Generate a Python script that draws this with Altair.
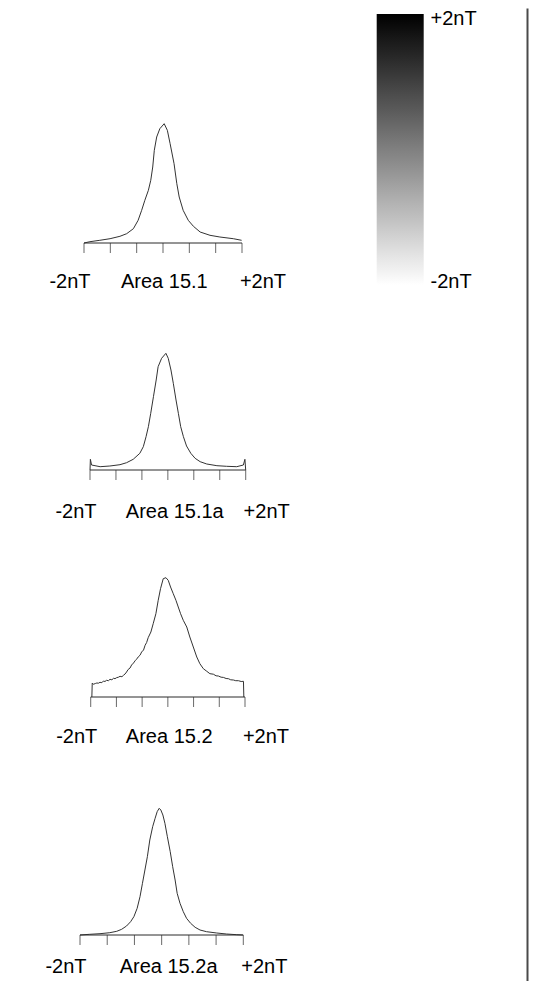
import altair as alt
import pandas as pd

# ---------------- data ----------------
# histogram traces: field value (nT) and relative frequency (arbitrary units)
P1_NT = [-2.00, -1.85, -1.60, -1.34, -1.09, -0.92, -0.75, -0.63, -0.54, -0.46,
         -0.37, -0.31, -0.26, -0.22, -0.16, -0.08, 0.03, 0.11, 0.18, 0.28,
         0.35, 0.41, 0.51, 0.64, 0.77, 0.94, 1.19, 1.44, 1.78, 1.99]
P1_FREQ = [0, 13, 27, 43, 67, 93, 143, 227, 327, 427,
           527, 627, 760, 927, 1060, 1143, 1193, 1127, 993, 793,
           593, 460, 327, 227, 167, 110, 77, 60, 43, 27]

P2_NT = [-2.00, -1.99, -1.96, -1.74, -1.49, -1.23, -1.06, -0.89, -0.72, -0.63,
         -0.56, -0.50, -0.44, -0.37, -0.30, -0.25, -0.16, -0.05, 0.01, 0.08,
         0.14, 0.21, 0.27, 0.33, 0.40, 0.48, 0.59, 0.70, 0.83, 1.00,
         1.26, 1.51, 1.77, 1.94, 1.98, 2.00]
P2_FREQ = [0, 107, 50, 33, 40, 53, 73, 107, 167, 233,
           333, 433, 567, 733, 900, 1033, 1117, 1167, 1117, 1000,
           867, 700, 567, 433, 333, 240, 167, 117, 83, 60,
           43, 37, 33, 50, 107, 0]

P3_NT = [-1.97, -1.96, -1.93, -1.88, -1.84, -1.80, -1.76, -1.71, -1.67, -1.63,
         -1.59, -1.54, -1.50, -1.45, -1.41, -1.37, -1.33, -1.28, -1.24, -1.19,
         -1.15, -1.11, -1.07, -1.03, -0.98, -0.94, -0.89, -0.85, -0.81, -0.77,
         -0.72, -0.68, -0.63, -0.59, -0.55, -0.51, -0.44, -0.38, -0.31, -0.25,
         -0.19, -0.12, -0.05, 0.01, 0.07, 0.14, 0.21, 0.27, 0.33, 0.40,
         0.49, 0.57, 0.66, 0.75, 0.83, 0.92, 1.01, 1.09, 1.18, 1.25,
         1.31, 1.38, 1.44, 1.51, 1.57, 1.63, 1.70, 1.76, 1.83, 1.90,
         1.96, 1.97]
P3_FREQ = [0, 140, 127, 135, 140, 138, 147, 143, 160, 155,
           167, 163, 177, 172, 187, 183, 193, 198, 207, 203,
           217, 230, 250, 275, 290, 320, 340, 362, 378, 400,
           418, 450, 470, 517, 545, 593, 650, 733, 833, 967,
           1083, 1183, 1193, 1167, 1100, 1033, 967, 900, 833, 767,
           700, 600, 500, 400, 333, 283, 257, 233, 228, 212,
           210, 198, 196, 185, 183, 172, 170, 163, 163, 155,
           157, 0]

P4_NT = [-2.00, -1.76, -1.51, -1.27, -1.10, -0.98, -0.86, -0.76, -0.68, -0.60,
         -0.53, -0.47, -0.41, -0.35, -0.29, -0.22, -0.16, -0.11, -0.06, -0.02,
         0.03, 0.08, 0.14, 0.21, 0.27, 0.33, 0.38, 0.45, 0.53, 0.61,
         0.71, 0.82, 0.94, 1.10, 1.35, 1.59, 1.84, 1.99]
P4_FREQ = [0, 7, 13, 23, 37, 57, 90, 133, 183, 267,
           383, 517, 650, 783, 950, 1083, 1167, 1233, 1267, 1250,
           1200, 1117, 983, 833, 683, 550, 417, 317, 233, 167,
           117, 77, 50, 33, 20, 10, 3, 0]

TICK_NT = [-2, -4 / 3, -2 / 3, 0, 2 / 3, 4 / 3, 2]
PANEL_TITLES = ["Area 15.1", "Area 15.1a", "Area 15.2", "Area 15.2a"]
LOW_LABEL = "-2nT"
HIGH_LABEL = "+2nT"
COLORBAR_NT = [-2, 2]

SERIES = [(P1_NT, P1_FREQ), (P2_NT, P2_FREQ), (P3_NT, P3_FREQ), (P4_NT, P4_FREQ)]

# ---------------- layout ----------------
FRAME_W = 300
AXIS_LEFT = [76, 82, 82.7, 72]          # px from frame left to the -2nT end
AXIS_W = [158, 155.7, 154.3, 163.3]     # px length of the -2..+2 axis
PLOT_H = [235, 177, 177, 188]
LABEL_DY = [44.7, 47.7, 45.7, 37.7]
PX_PER_UNIT = 0.1
FONT = "Liberation Sans"
INK = "#2a2a2a"

RIGHT_W = 219
RIGHT_H = 973
BAR_TOP = 6          # px from chart top to the colour bar top
BAR_LEN = 271        # colour bar length, px
BAR_X = 368.7        # colour bar left, px from chart left
BAR_THICK = 47
BAR_LABEL_X = 422    # label left edge, px from chart left


def panel(k):
    xs, ys = SERIES[k]
    s = AXIS_W[k] / 4.0
    lo = -2 - AXIS_LEFT[k] / s
    hi = lo + FRAME_W / s
    xsc = alt.Scale(domain=[lo, hi], nice=False, zero=False)
    ysc = alt.Scale(domain=[0, PLOT_H[k] / PX_PER_UNIT], nice=False, zero=False)

    def X(f):
        return alt.X(f, type="quantitative", scale=xsc, axis=None)

    def Y(f):
        return alt.Y(f, type="quantitative", scale=ysc, axis=None)

    hist = pd.DataFrame({"nT": xs, "freq": ys})
    line = alt.Chart(hist).mark_line(color="#333333", strokeWidth=1).encode(
        x=X("nT"), y=Y("freq"))

    base_df = pd.DataFrame({"a": [min(TICK_NT)], "b": [max(TICK_NT)], "z": [0]})
    base = alt.Chart(base_df).mark_rule(color=INK, strokeWidth=1).encode(
        x=X("a"), x2="b", y=Y("z"))

    tick_df = pd.DataFrame({"nT": TICK_NT, "z": [0] * len(TICK_NT)})
    ticks = alt.Chart(tick_df).mark_tick(
        orient="vertical", size=10, thickness=1, yOffset=5, color=INK
    ).encode(x=X("nT"), y=Y("z"))

    txt = dict(fontSize=20, font=FONT, color="black", baseline="alphabetic",
               dy=LABEL_DY[k])
    lab_lo = alt.Chart(pd.DataFrame({"nT": [-2], "z": [0], "t": [LOW_LABEL]})).mark_text(
        align="center", dx=-14, **txt).encode(x=X("nT"), y=Y("z"), text="t:N")
    lab_mid = alt.Chart(pd.DataFrame({"nT": [0], "z": [0], "t": [PANEL_TITLES[k]]})).mark_text(
        align="left", dx=-42, **txt).encode(x=X("nT"), y=Y("z"), text="t:N")
    lab_hi = alt.Chart(pd.DataFrame({"nT": [2], "z": [0], "t": [HIGH_LABEL]})).mark_text(
        align="center", dx=21, **txt).encode(x=X("nT"), y=Y("z"), text="t:N")

    return alt.layer(line, base, ticks, lab_lo, lab_mid, lab_hi).properties(
        width=FRAME_W, height=PLOT_H[k])


left = alt.vconcat(*[panel(k) for k in range(4)], spacing=50, bounds="flush")

# right column: y scale chosen so that -2..+2 nT coincides with the colour bar
px_per_nt = BAR_LEN / (COLORBAR_NT[1] - COLORBAR_NT[0])
y_top = COLORBAR_NT[1] + BAR_TOP / px_per_nt
y_bot = COLORBAR_NT[0] - (RIGHT_H - BAR_TOP - BAR_LEN) / px_per_nt
right_origin = FRAME_W  # hconcat spacing 0

cb = pd.DataFrame({"nT": COLORBAR_NT})
right = alt.Chart(cb).mark_point(opacity=0, size=0).encode(
    y=alt.Y("nT:Q", scale=alt.Scale(domain=[y_bot, y_top], nice=False, zero=False),
            axis=alt.Axis(orient="right", domainColor="#4a4a4a", domainWidth=2,
                          ticks=False, tickSize=0, grid=False, title=None,
                          values=COLORBAR_NT,
                          labelExpr=f"datum.value > 0 ? '{HIGH_LABEL}' : '{LOW_LABEL}'",
                          labelAlign="left", labelBaseline="middle",
                          labelPadding=(BAR_LABEL_X - right_origin) - RIGHT_W,
                          labelOffset={"condition": {"test": "datum.value > 0", "value": 4},
                                       "value": -4},
                          labelFontSize=20, labelFont=FONT, labelColor="black",
                          labelFlush=False, labelOverlap=False)),
    color=alt.Color(
        "nT:Q",
        scale=alt.Scale(domain=COLORBAR_NT, range=["#ffffff", "#000000"], interpolate="rgb"),
        legend=alt.Legend(
            orient="none", legendX=BAR_X, legendY=BAR_TOP, direction="vertical",
            gradientLength=BAR_LEN, gradientThickness=BAR_THICK, gradientStrokeWidth=0,
            values=COLORBAR_NT, padding=0, labelOpacity=0, labelFontSize=1,
            title=None,
        ),
    ),
).properties(width=RIGHT_W, height=RIGHT_H)

chart = alt.hconcat(left, right, spacing=0).properties(
    padding={"left": 0, "top": 0, "right": 6, "bottom": 0}
).configure_view(strokeWidth=0)

chart.save("out.html", embed_options={"renderer": "svg", "actions": False})
